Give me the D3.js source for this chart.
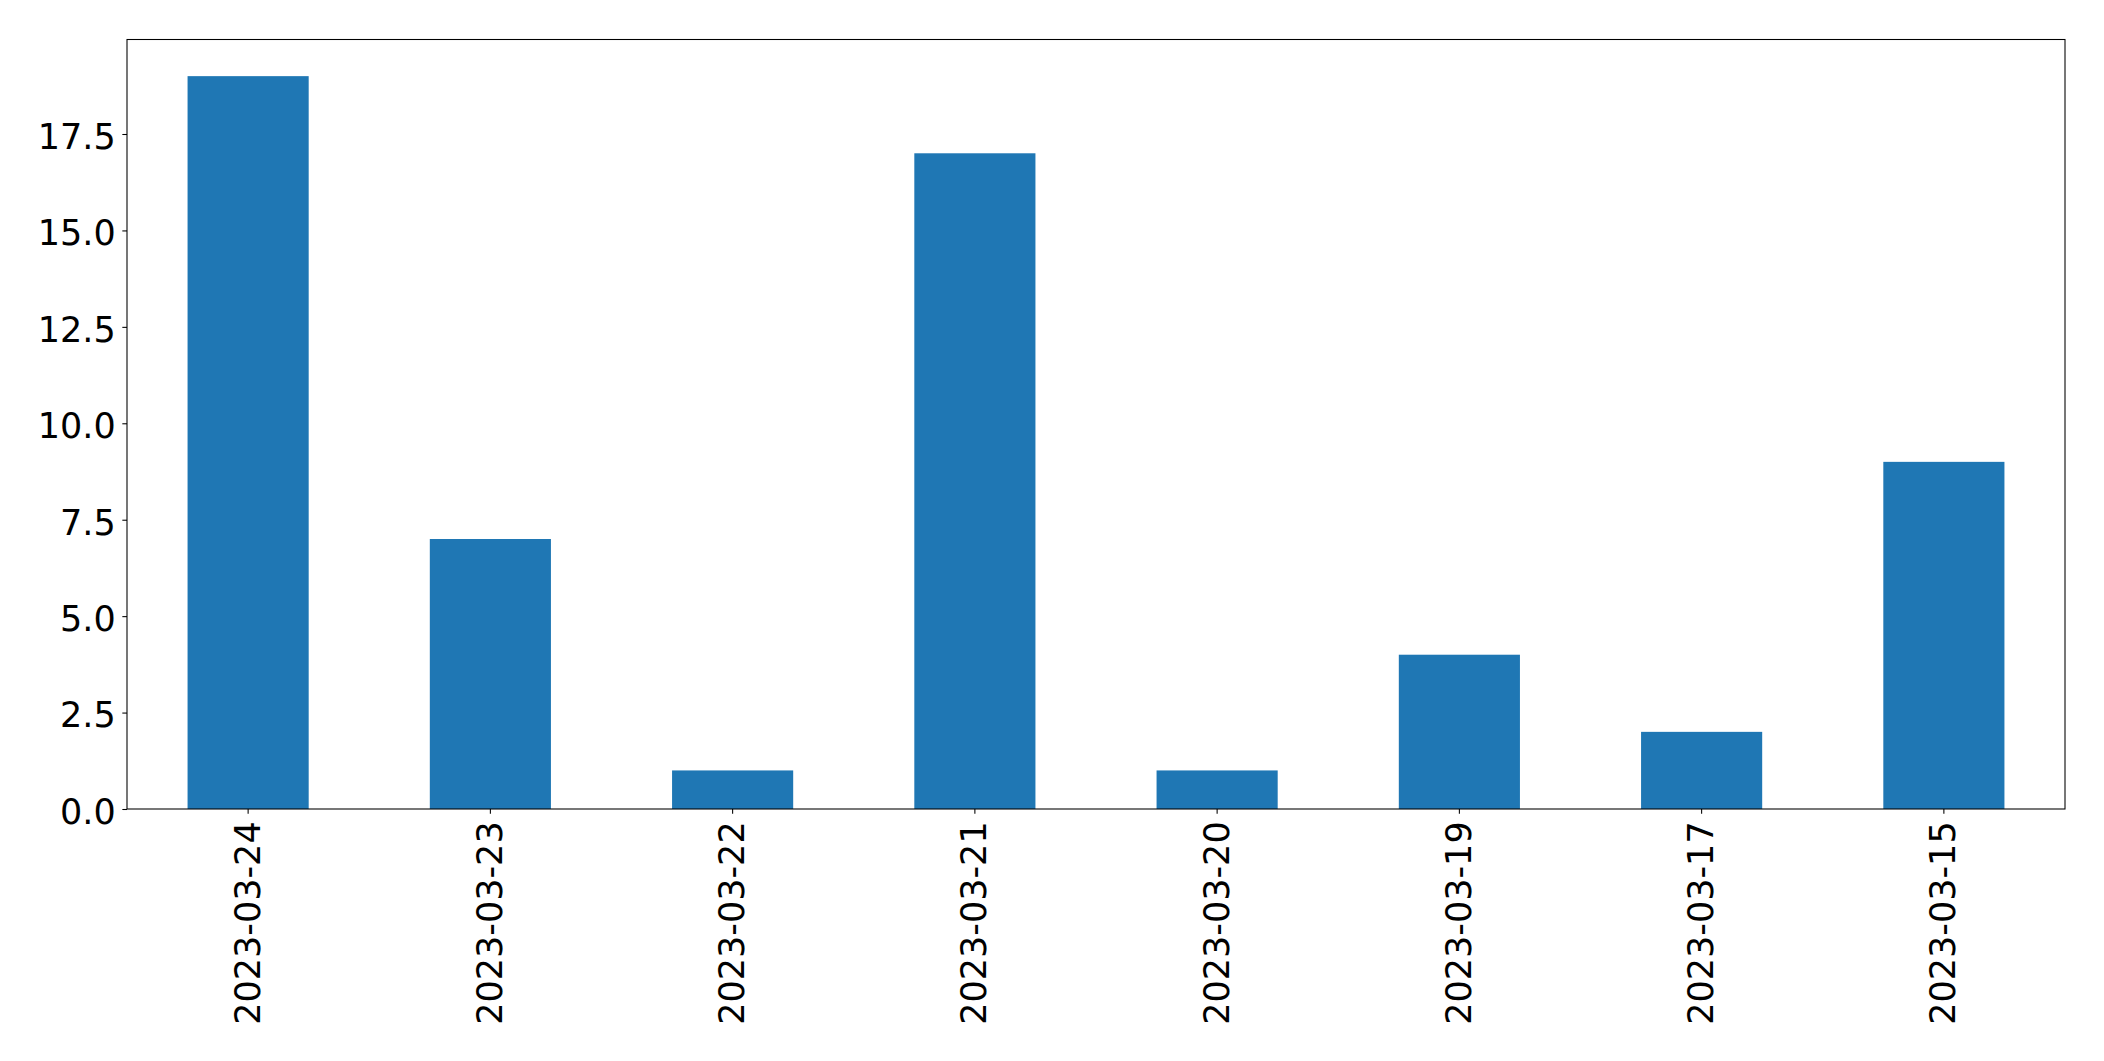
<!DOCTYPE html>
<html>
<head>
<meta charset="utf-8">
<script src="https://cdn.jsdelivr.net/npm/d3@7"></script>
<style>
  html, body { margin: 0; padding: 0; background: #fff; }
  svg { display: block; }
  text { font-family: "DejaVu Sans", sans-serif; fill: #000; }
</style>
</head>
<body>
<svg id="chart" width="2104" height="1061"></svg>
<script>
const categories = ["2023-03-24", "2023-03-23", "2023-03-22", "2023-03-21", "2023-03-20", "2023-03-19", "2023-03-17", "2023-03-15"];
const values = [19, 7, 1, 17, 1, 4, 2, 9];
const yTicks = [0, 2.5, 5, 7.5, 10, 12.5, 15, 17.5];

const W = 2104, H = 1061;
const margin = { left: 127, right: W - 2065, top: 39.5, bottom: H - 809 };
const fontSize = 35;
const tickLen = 4.67, pad = 4.67;

const svg = d3.select("#chart");
const x = d3.scaleBand().domain(categories).range([margin.left, W - margin.right]).paddingInner(0.5).paddingOuter(0.25);
const y = d3.scaleLinear().domain([0, d3.max(values) * 1.05]).range([H - margin.bottom, margin.top]);

// bars
svg.append("g").selectAll("rect").data(values).join("rect")
  .attr("x", (d, i) => x(categories[i]))
  .attr("width", x.bandwidth())
  .attr("y", d => y(d))
  .attr("height", d => y(0) - y(d))
  .attr("fill", "#1f77b4");

// y axis
const yAxis = svg.append("g").attr("transform", `translate(${margin.left},0)`)
  .call(d3.axisLeft(y).tickValues(yTicks).tickFormat(d => d.toFixed(1)).tickSize(tickLen).tickPadding(pad + 2));
yAxis.select(".domain").remove();
yAxis.selectAll(".tick line").attr("stroke", "#000").attr("stroke-width", 1.07);
yAxis.selectAll(".tick text").attr("font-size", fontSize).attr("font-family", "DejaVu Sans").attr("dy", "0.41em").attr("fill", "#000");

// x axis
const xAxis = svg.append("g").attr("transform", `translate(0,${H - margin.bottom})`)
  .call(d3.axisBottom(x).tickSize(tickLen).tickPadding(pad));
xAxis.select(".domain").remove();
xAxis.selectAll(".tick line").attr("stroke", "#000").attr("stroke-width", 1.07);
xAxis.selectAll(".tick text")
  .attr("font-size", fontSize).attr("font-family", "DejaVu Sans").attr("fill", "#000")
  .attr("text-anchor", "end")
  .attr("transform", `translate(0,${tickLen + pad + 3}) rotate(-90)`)
  .attr("x", 0).attr("y", 0).attr("dy", "0.33em");

// spines
svg.append("rect")
  .attr("x", margin.left).attr("y", margin.top)
  .attr("width", W - margin.right - margin.left)
  .attr("height", H - margin.bottom - margin.top)
  .attr("fill", "none").attr("stroke", "#000").attr("stroke-width", 1.07);
</script>
</body>
</html>
